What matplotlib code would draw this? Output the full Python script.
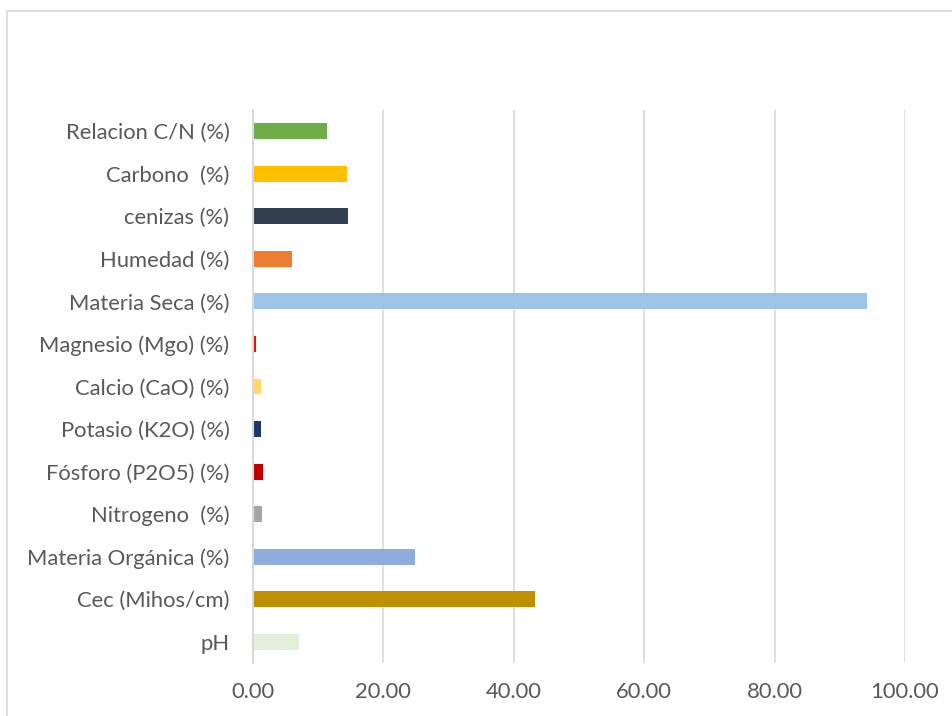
import matplotlib.pyplot as plt
from matplotlib.patches import Rectangle

plt.rcParams['font.family'] = ['Lato', 'DejaVu Sans']

# categorias de abajo hacia arriba
categorias = ['pH', 'Cec (Mihos/cm)', 'Materia Orgánica (%)', 'Nitrogeno  (%)',
              'Fósforo (P2O5) (%)', 'Potasio (K2O) (%)', 'Calcio (CaO) (%)',
              'Magnesio (Mgo) (%)', 'Materia Seca (%)', 'Humedad (%)',
              'cenizas (%)', 'Carbono  (%)', 'Relacion C/N (%)']
valores = [7.05, 43.2, 24.9, 1.35, 1.5, 1.2, 1.2, 0.4, 94.2, 6.0, 14.6, 14.4, 11.35]
colores = ['#E2EFDA', '#BF9000', '#8FAADC', '#A5A5A5', '#C00000', '#1F3864',
           '#FFD966', '#FF0000', '#9DC3E6', '#ED7D31', '#333F50', '#FFC000', '#70AD47']
ticks_x = [0, 20, 40, 60, 80, 100]

fig = plt.figure(figsize=(9.52, 7.16), dpi=100)
ax = fig.add_axes([253 / 952, 53 / 716, 652 / 952, 553 / 716])

ax.barh(range(len(categorias)), valores, height=0.375, color=colores, zorder=3)

ax.set_xlim(0, 100)
ax.set_ylim(-0.5, len(categorias) - 0.5)
ax.set_xticks(ticks_x)
ax.set_xticklabels([f'{t:.2f}' for t in ticks_x])
ax.set_yticks(range(len(categorias)))
ax.set_yticklabels(categorias)
ax.tick_params(axis='both', length=0, labelsize=15.8, colors='#595959')
ax.tick_params(axis='y', pad=17)
ax.tick_params(axis='x', pad=14)

ax.grid(axis='x', color='#D9D9D9', linewidth=1.2, zorder=0)
for s in ['top', 'right', 'bottom']:
    ax.spines[s].set_visible(False)
ax.spines['left'].set_color('#D9D9D9')
ax.spines['left'].set_linewidth(1.5)
ax.spines['left'].set_zorder(4)

# marco del grafico
fig.patches.append(Rectangle((6.5 / 952, -0.1), 1.2, 1.1 - 11 / 716,
                             transform=fig.transFigure, fill=False,
                             edgecolor='#D9D9D9', linewidth=1.2))

fig.savefig('out.png', dpi=100)
